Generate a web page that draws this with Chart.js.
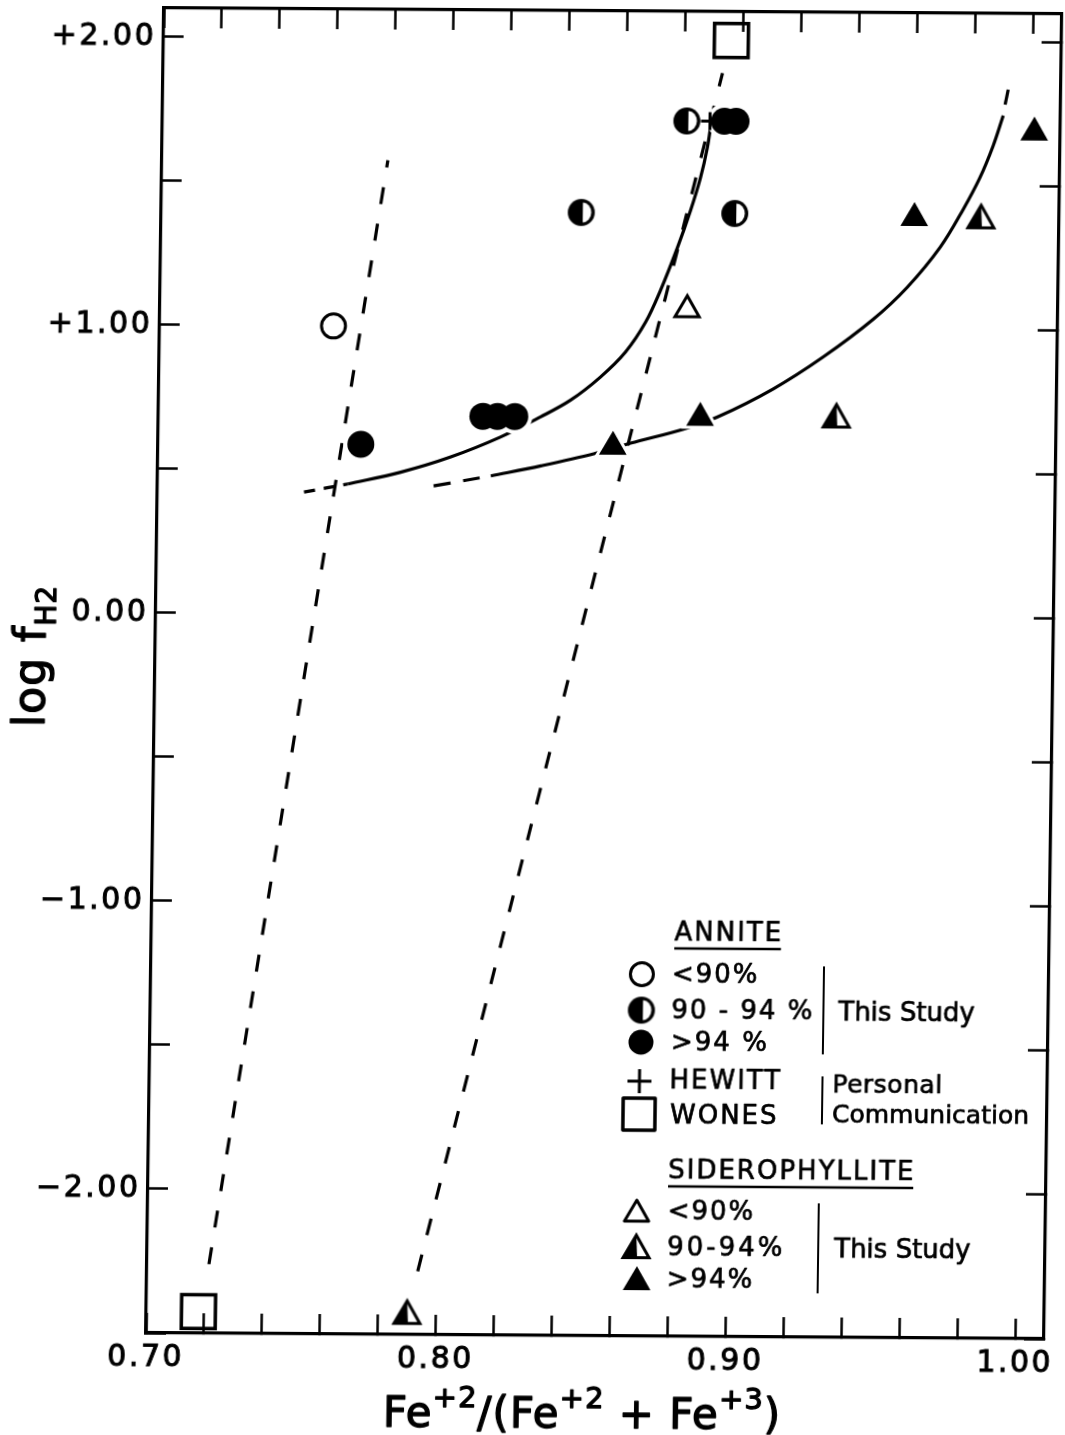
<!DOCTYPE html>
<html>
<head>
<meta charset="utf-8">
<script src="https://cdn.jsdelivr.net/npm/chart.js@4.4.1/dist/chart.umd.min.js"></script>
<style>
  html, body { margin: 0; padding: 0; background: #fff; }
  #plot {
    display: block;
    /* the printed figure sits slightly askew on the page */
    transform: matrix(1, 0.00668, -0.01358, 1, 0, 0);
    transform-origin: 604px 674px;
  }
</style>
</head>
<body>
<canvas id="plot" width="1065" height="1435"></canvas>
<script>
const INK = '#000';
const FONT = '"DejaVu Sans", sans-serif';

// ---- axes ----
const xRange = [0.70, 1.01];
const yRange = [-2.5, 2.1];
const xLabelled = [0.70, 0.80, 0.90, 1.00];
const yLabelled = [2, 1, 0, -1, -2];
const yLabelText = ['+2.00', '+1.00', '0.00', '\u22121.00', '\u22122.00'];

// ---- annite runs (by % yield) ----
const anniteLow = [{ x: 0.760, y: 1.00 }];
const anniteMid = [{ x: 0.845, y: 1.40 }, { x: 0.898, y: 1.40 }, { x: 0.881, y: 1.72 }];
const anniteHigh = [
  { x: 0.770, y: 0.59 }, { x: 0.812, y: 0.69 }, { x: 0.817, y: 0.69 }, { x: 0.823, y: 0.69 },
  { x: 0.894, y: 1.72 }, { x: 0.898, y: 1.72 }
];
const hewitt = [{ x: 0.889, y: 1.72 }];
const wones = [{ x: 0.718, y: -2.425 }, { x: 0.896, y: 2.00 }];

// ---- siderophyllite runs ----
const sideroLow = [{ x: 0.882, y: 1.065 }];
const sideroMid = [{ x: 0.790, y: -2.435 }, { x: 0.934, y: 0.687 }, { x: 0.983, y: 1.382 }];
const sideroHigh = [{ x: 0.857, y: 0.587 }, { x: 0.887, y: 0.690 }, { x: 0.960, y: 1.388 }, { x: 1.001, y: 1.688 }];

// ---- hand-fitted curves ----
const anniteCurveLead = [{ x: 0.7506, y: 0.4225 }, { x: 0.7657, y: 0.452 }];
const anniteCurve = [
  { x: 0.7657, y: 0.452 }, { x: 0.7839, y: 0.494 }, { x: 0.8011, y: 0.548 }, { x: 0.8181, y: 0.618 },
  { x: 0.8319, y: 0.689 }, { x: 0.8422, y: 0.748 }, { x: 0.8524, y: 0.829 }, { x: 0.8609, y: 0.916 },
  { x: 0.8677, y: 1.020 }, { x: 0.8727, y: 1.131 }, { x: 0.8784, y: 1.281 }, { x: 0.8827, y: 1.409 },
  { x: 0.8860, y: 1.523 }, { x: 0.8882, y: 1.627 }, { x: 0.8895, y: 1.721 }
];
const sideroCurveLead = [{ x: 0.7953, y: 0.447 }, { x: 0.8150, y: 0.483 }];
const sideroCurve = [
  { x: 0.8150, y: 0.483 }, { x: 0.8322, y: 0.519 }, { x: 0.8504, y: 0.562 }, { x: 0.8631, y: 0.600 },
  { x: 0.8813, y: 0.650 }, { x: 0.8930, y: 0.693 }, { x: 0.9121, y: 0.792 }, { x: 0.9292, y: 0.904 },
  { x: 0.9463, y: 1.036 }, { x: 0.9579, y: 1.148 }, { x: 0.9691, y: 1.288 }, { x: 0.9768, y: 1.419 },
  { x: 0.9825, y: 1.531 }, { x: 0.9869, y: 1.642 }, { x: 0.9902, y: 1.746 }
];
const sideroCurveTail = [{ x: 0.9908, y: 1.784 }, { x: 0.9918, y: 1.836 }];

// dashed tie lines
const leftTie = [{ x: 0.7214, y: -2.26 }, { x: 0.778, y: 1.577 }];
const rightTie = [{ x: 0.7935, y: -2.28 }, { x: 0.8931, y: 1.887 }];

// ---- marker images for the half-filled classes ----
function halfCircleMark(r) {
  const c = document.createElement('canvas');
  const s = Math.ceil(r * 2 + 4);
  c.width = c.height = s;
  const g = c.getContext('2d');
  const m = s / 2;
  g.fillStyle = INK;
  g.beginPath(); g.arc(m, m, r, 0, Math.PI * 2); g.fill();
  g.fillStyle = '#fff';
  g.beginPath();
  g.ellipse(m + 1.5, m, r - 5, r - 3.5, 0, -Math.PI / 2, Math.PI / 2);
  g.closePath();
  g.fill();
  return c;
}

function triPath(g, cx, cy, r) {
  const h = r * Math.sin(Math.PI / 3);
  g.beginPath();
  g.moveTo(cx, cy - r);
  g.lineTo(cx + h, cy + r / 2);
  g.lineTo(cx - h, cy + r / 2);
  g.closePath();
}

function halfTriangleMark(r) {
  const c = document.createElement('canvas');
  const s = Math.ceil(r * 2 + 12);
  c.width = c.height = s;
  const g = c.getContext('2d');
  const m = s / 2;
  const h = r * Math.sin(Math.PI / 3);
  triPath(g, m, m, r);
  g.fillStyle = '#fff';
  g.fill();
  g.fillStyle = INK;
  g.beginPath();
  g.moveTo(m, m - r);
  g.lineTo(m + 1, m + r / 2);
  g.lineTo(m - h, m + r / 2);
  g.closePath();
  g.fill();
  triPath(g, m, m, r);
  g.lineWidth = 3;
  g.strokeStyle = INK;
  g.stroke();
  return c;
}

const halfCircle = halfCircleMark(13.5);
const halfTriangle = halfTriangleMark(15);

// ---- dataset helpers ----
function curve(data, dash, width) {
  return {
    data, showLine: true, fill: false, tension: 0.35,
    borderColor: INK, borderWidth: width || 3.2, borderDash: dash || [],
    pointRadius: 0, order: 4
  };
}

function marks(data, style, extra) {
  return Object.assign({
    data, showLine: false, pointStyle: style, pointRadius: 13.5,
    pointBackgroundColor: INK, pointBorderColor: INK, pointBorderWidth: 0, order: 1
  }, extra);
}

function halo(data, style, radius) {
  return {
    data, showLine: false, pointStyle: style, pointRadius: radius,
    pointBackgroundColor: '#fff', pointBorderColor: '#fff', pointBorderWidth: 0, order: 2
  };
}

function xTickLabel(v) {
  const t = xLabelled.find(l => Math.abs(l - v) < 1e-6);
  return t === undefined ? '' : t.toFixed(2);
}

function yTickLabel(v) {
  const i = yLabelled.findIndex(l => Math.abs(l - v) < 1e-6);
  return i < 0 ? '' : yLabelText[i];
}

// pin each axis to a fixed thickness, with no extra room for overhanging labels
function pinAxis(size) {
  return function (s) {
    if (s.isHorizontal()) s.height = size; else s.width = size;
    s.paddingTop = s.paddingBottom = s.paddingLeft = s.paddingRight = 0;
  };
}

const tickGrid = { drawOnChartArea: false, drawTicks: true, tickLength: -20, tickWidth: 2.5, tickColor: INK };
const frame = { display: true, width: 3.2, color: INK };
const tickFont = { family: FONT, size: 30 };

// ---- axis titles and key, drawn over the chart ----
function drawRuns(ctx, runs, x, y, stroke) {
  let cx = x;
  for (const [text, size, rise] of runs) {
    ctx.font = size + 'px ' + FONT;
    ctx.fillText(text, cx, y - rise);
    if (stroke) ctx.strokeText(text, cx, y - rise);
    cx += ctx.measureText(text).width;
  }
  return cx - x;
}

function runsWidth(ctx, runs) {
  let w = 0;
  for (const [text, size] of runs) {
    ctx.font = size + 'px ' + FONT;
    w += ctx.measureText(text).width;
  }
  return w;
}

function keyMark(ctx, kind, x, y) {
  ctx.save();
  ctx.fillStyle = INK;
  ctx.strokeStyle = INK;
  ctx.lineWidth = 3;
  if (kind === 'circleOpen') {
    ctx.beginPath(); ctx.arc(x, y, 11.5, 0, Math.PI * 2); ctx.stroke();
  } else if (kind === 'circleFull') {
    ctx.beginPath(); ctx.arc(x, y, 12.5, 0, Math.PI * 2); ctx.fill();
  } else if (kind === 'circleHalf') {
    ctx.drawImage(halfCircle, x - halfCircle.width / 2, y - halfCircle.height / 2);
  } else if (kind === 'plus') {
    ctx.beginPath();
    ctx.moveTo(x - 12, y); ctx.lineTo(x + 12, y);
    ctx.moveTo(x, y - 12); ctx.lineTo(x, y + 12);
    ctx.stroke();
  } else if (kind === 'square') {
    ctx.lineWidth = 3.5;
    ctx.strokeRect(x - 16, y - 16, 32, 32);
  } else if (kind === 'triOpen') {
    triPath(ctx, x, y, 14); ctx.stroke();
  } else if (kind === 'triFull') {
    triPath(ctx, x, y, 16); ctx.fill();
  } else if (kind === 'triHalf') {
    ctx.drawImage(halfTriangle, x - halfTriangle.width / 2, y - halfTriangle.height / 2);
  }
  ctx.restore();
}

function keyText(ctx, text, x, y, size, spacing) {
  ctx.font = size + 'px ' + FONT;
  ctx.letterSpacing = spacing + 'px';
  ctx.fillText(text, x, y);
  ctx.strokeText(text, x, y);
  const w = ctx.measureText(text).width;
  ctx.letterSpacing = '0px';
  return w;
}

const figureText = {
  id: 'figureText',
  beforeDraw(chart) {
    chart.ctx.letterSpacing = '2.5px';
  },
  afterDraw(chart) {
    const ctx = chart.ctx;
    ctx.save();
    ctx.letterSpacing = '0px';
    ctx.fillStyle = INK;
    ctx.strokeStyle = INK;
    ctx.lineJoin = 'round';

    // x title: Fe+2/(Fe+2 + Fe+3)
    ctx.textBaseline = 'alphabetic';
    ctx.textAlign = 'left';
    ctx.letterSpacing = '1px';
    ctx.lineWidth = 1.3;
    const xRuns = [['Fe', 42, 0], ['+2', 29, 20], ['/(', 42, 0], ['Fe', 42, 0], ['+2', 29, 20],
      [' + ', 42, 0], ['Fe', 42, 0], ['+3', 29, 20], [')', 42, 0]];
    const xw = runsWidth(ctx, xRuns);
    drawRuns(ctx, xRuns, 592 - xw / 2, 1428, true);

    // y title: log fH2
    ctx.save();
    ctx.translate(45, 731);
    ctx.rotate(-Math.PI / 2);
    drawRuns(ctx, [['log f', 44, 0], ['H', 28, -10], ['2', 28, -10]], 0, 0, true);
    ctx.restore();
    ctx.letterSpacing = '0px';

    // key
    ctx.textBaseline = 'middle';
    ctx.lineWidth = 0.7;
    let w = keyText(ctx, 'ANNITE', 678, 933, 26, 2);
    ctx.lineWidth = 2.5;
    ctx.beginPath(); ctx.moveTo(678, 948); ctx.lineTo(678 + w - 2, 948); ctx.stroke();
    ctx.lineWidth = 0.7;

    keyMark(ctx, 'circleOpen', 646, 974);
    keyText(ctx, '<90%', 676, 975, 26, 2);
    keyMark(ctx, 'circleHalf', 646, 1010);
    keyText(ctx, '90 - 94 %', 676, 1011, 26, 2);
    keyMark(ctx, 'circleFull', 646, 1042);
    keyText(ctx, '>94 %', 676, 1043, 26, 2);
    ctx.lineWidth = 2;
    ctx.beginPath(); ctx.moveTo(828, 965); ctx.lineTo(828, 1053); ctx.stroke();
    ctx.lineWidth = 0.7;
    keyText(ctx, 'This Study', 843, 1012, 26, 0);

    keyMark(ctx, 'plus', 645, 1081);
    keyText(ctx, 'HEWITT', 675, 1081, 26, 2);
    keyMark(ctx, 'square', 645, 1114);
    keyText(ctx, 'WONES', 676, 1116, 26, 2);
    ctx.lineWidth = 2;
    ctx.beginPath(); ctx.moveTo(828, 1075); ctx.lineTo(828, 1123); ctx.stroke();
    ctx.lineWidth = 0.7;
    keyText(ctx, 'Personal', 838, 1084, 25, 0.5);
    keyText(ctx, 'Communication', 838, 1114, 25, 0);

    w = keyText(ctx, 'SIDEROPHYLLITE', 675, 1171, 26, 2);
    ctx.lineWidth = 2.5;
    ctx.beginPath(); ctx.moveTo(675, 1186); ctx.lineTo(675 + w - 2, 1186); ctx.stroke();
    ctx.lineWidth = 0.7;

    keyMark(ctx, 'triOpen', 644, 1214);
    keyText(ctx, '<90%', 675, 1212, 26, 2);
    keyMark(ctx, 'triHalf', 644, 1250);
    keyText(ctx, '90-94%', 675, 1248, 26, 3);
    keyMark(ctx, 'triFull', 645, 1282);
    keyText(ctx, '>94%', 675, 1280, 26, 2);
    ctx.lineWidth = 2;
    ctx.beginPath(); ctx.moveTo(826, 1202); ctx.lineTo(826, 1292); ctx.stroke();
    ctx.lineWidth = 0.7;
    keyText(ctx, 'This Study', 842, 1249, 26, 0);

    ctx.restore();
  }
};

new Chart(document.getElementById('plot'), {
  type: 'scatter',
  data: {
    datasets: [
      curve(anniteCurveLead, [11, 9]),
      curve(anniteCurve),
      curve(sideroCurveLead, [17, 13]),
      curve(sideroCurve),
      curve(sideroCurveTail),
      curve(leftTie, [17, 20]),
      curve(rightTie, [17, 20]),

      halo([...anniteMid, ...anniteHigh], 'circle', 17.5),
      halo([...sideroLow, ...sideroMid, ...sideroHigh], 'triangle', 22),

      marks(anniteLow, 'circle', { pointRadius: 12, pointBackgroundColor: '#fff', pointBorderWidth: 3 }),
      marks(anniteMid, halfCircle),
      marks(anniteHigh, 'circle'),
      marks(wones, 'rect', { pointRadius: 24, pointBackgroundColor: 'rgba(0,0,0,0)', pointBorderWidth: 3.5 }),
      marks(sideroLow, 'triangle', { pointRadius: 14, pointBackgroundColor: '#fff', pointBorderWidth: 3 }),
      marks(sideroMid, halfTriangle),
      marks(sideroHigh, 'triangle', { pointRadius: 16 }),
      marks(hewitt, 'cross', { pointRadius: 9, pointBorderWidth: 3, order: 0 })
    ]
  },
  options: {
    responsive: false,
    devicePixelRatio: 1,
    animation: false,
    events: [],
    layout: { autoPadding: false, padding: { left: 0, top: 11, right: 12, bottom: 0 } },
    plugins: { legend: { display: false }, tooltip: { enabled: false } },
    scales: {
      x: {
        type: 'linear', position: 'bottom', min: xRange[0], max: xRange[1],
        border: frame, grid: tickGrid,
        ticks: {
          stepSize: 0.02, autoSkip: false, includeBounds: false, maxRotation: 0,
          padding: 27, color: INK, font: tickFont, textStrokeColor: INK, textStrokeWidth: 1,
          callback: xTickLabel
        },
        afterFit: pinAxis(99)
      },
      x2: {
        type: 'linear', position: 'top', min: xRange[0], max: xRange[1],
        border: frame, grid: tickGrid,
        ticks: { stepSize: 0.02, autoSkip: false, includeBounds: false, display: false },
        afterFit: pinAxis(0)
      },
      y: {
        type: 'linear', position: 'left', min: yRange[0], max: yRange[1],
        border: frame, grid: tickGrid,
        ticks: {
          stepSize: 0.5, autoSkip: false, includeBounds: false,
          padding: 27.5, color: INK, font: tickFont, textStrokeColor: INK, textStrokeWidth: 1,
          callback: yTickLabel
        },
        afterFit: pinAxis(155)
      },
      y2: {
        type: 'linear', position: 'right', min: yRange[0], max: yRange[1],
        border: frame, grid: tickGrid,
        ticks: { stepSize: 0.5, autoSkip: false, includeBounds: false, display: false },
        afterFit: pinAxis(0)
      }
    }
  },
  plugins: [figureText]
});
</script>
</body>
</html>
